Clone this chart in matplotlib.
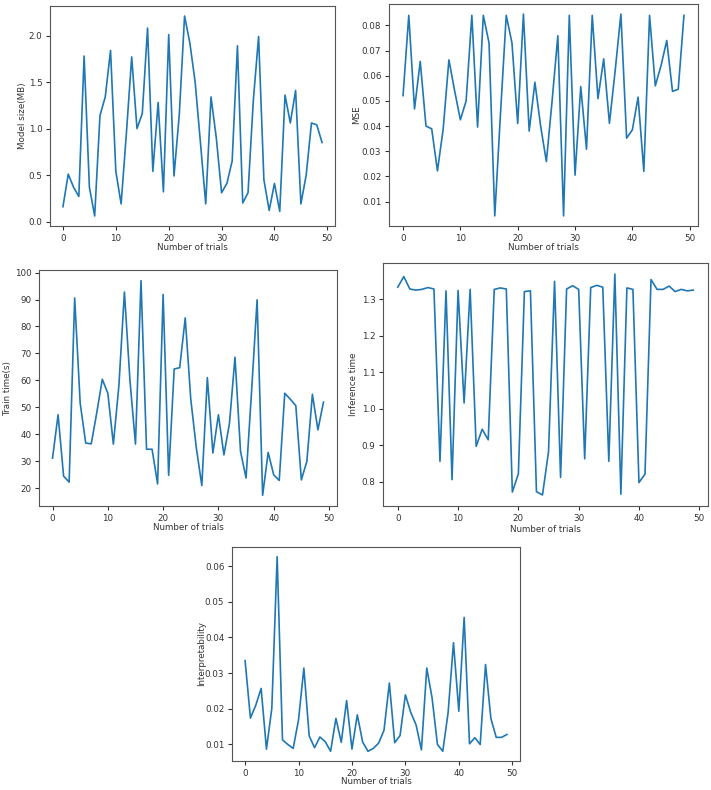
import numpy as np
import matplotlib
matplotlib.use('Agg')
import matplotlib.pyplot as plt

trials = np.arange(50)

model_size = [0.16, 0.51, 0.37, 0.27, 1.78, 0.37, 0.06, 1.14, 1.34, 1.84,
              0.54, 0.19, 0.95, 1.77, 1.00, 1.16, 2.08, 0.54, 1.28, 0.32,
              2.01, 0.49, 1.15, 2.21, 1.92, 1.50, 0.85, 0.19, 1.34, 0.90,
              0.31, 0.41, 0.65, 1.89, 0.20, 0.31, 1.30, 1.99, 0.45, 0.12,
              0.41, 0.11, 1.36, 1.06, 1.41, 0.19, 0.50, 1.06, 1.04, 0.85]

mse = [0.0521, 0.0840, 0.0468, 0.0657, 0.0400, 0.0389, 0.0222, 0.0388, 0.0663, 0.0540,
       0.0425, 0.0500, 0.0840, 0.0396, 0.0840, 0.0730, 0.0043, 0.0450, 0.0840, 0.0730,
       0.0410, 0.0845, 0.0380, 0.0574, 0.0400, 0.0259, 0.0500, 0.0759, 0.0043, 0.0840,
       0.0205, 0.0557, 0.0308, 0.0840, 0.0509, 0.0667, 0.0411, 0.0620, 0.0845, 0.0352,
       0.0385, 0.0515, 0.0220, 0.0840, 0.0560, 0.0640, 0.0740, 0.0538, 0.0546, 0.0840]

train_time = [31.1, 47.2, 24.4, 22.2, 90.6, 51.5, 36.7, 36.4, 48.0, 60.4,
              55.2, 36.3, 58.0, 92.8, 60.0, 36.3, 97.0, 34.4, 34.4, 21.5,
              91.9, 24.7, 64.2, 64.7, 83.2, 53.0, 35.0, 20.9, 61.0, 33.0,
              47.2, 32.3, 44.0, 68.6, 33.6, 23.7, 56.0, 89.9, 17.3, 33.2,
              24.9, 22.8, 55.2, 53.0, 50.6, 23.0, 29.9, 54.8, 41.6, 51.9]

inference_time = [1.333, 1.362, 1.328, 1.325, 1.327, 1.332, 1.328, 0.856, 1.323, 0.806,
                  1.324, 1.016, 1.327, 0.897, 0.944, 0.915, 1.327, 1.331, 1.328, 0.772,
                  0.822, 1.321, 1.323, 0.773, 0.764, 0.882, 1.349, 0.812, 1.328, 1.337,
                  1.327, 0.863, 1.332, 1.338, 1.333, 0.856, 1.369, 0.766, 1.331, 1.327,
                  0.798, 0.821, 1.354, 1.327, 1.327, 1.336, 1.321, 1.327, 1.323, 1.325]

interpretability = [0.0335, 0.0174, 0.0210, 0.0257, 0.0087, 0.0201, 0.0626, 0.0113, 0.0100, 0.0089,
                    0.0169, 0.0314, 0.0124, 0.0091, 0.0121, 0.0108, 0.0081, 0.0173, 0.0106, 0.0223,
                    0.0087, 0.0183, 0.0107, 0.0081, 0.0089, 0.0104, 0.0140, 0.0272, 0.0105, 0.0125,
                    0.0239, 0.0190, 0.0155, 0.0085, 0.0314, 0.0230, 0.0100, 0.0081, 0.0190, 0.0385,
                    0.0193, 0.0456, 0.0102, 0.0119, 0.0100, 0.0324, 0.0173, 0.0120, 0.0120, 0.0128]

W, H = 711, 790
fig = plt.figure(figsize=(W / 100, H / 100), dpi=100)

# (left, right, top, bottom) of each axes box, then x of ylabel, y of xlabel (pixels)
panels = [
    ((50, 335, 6, 226), 23, 247, model_size, 'Model size(MB)'),
    ((389, 698, 4, 226), 357, 247, mse, 'MSE'),
    ((39, 337, 270, 506), 8, 528, train_time, 'Train time(s)'),
    ((383, 708, 263, 506), 354, 530, inference_time, 'Inference time'),
    ((232, 520, 547, 761), 202, 781, interpretability, 'Interpretability'),
]

for (l, r, t, b), ylx, xly, vals, ylab in panels:
    ax = fig.add_axes([l / W, 1 - b / H, (r - l) / W, (b - t) / H])
    ax.plot(trials, vals, color='#1f77b4', lw=1.2)
    ax.set_xlabel('Number of trials', fontsize=6.3, color='#333333', va='center')
    ax.set_ylabel(ylab, fontsize=6.3, color='#333333', va='center')
    ax.xaxis.set_label_coords(0.5, (b - xly) / (b - t))
    ax.yaxis.set_label_coords((ylx - l) / (r - l), 0.5)
    ax.tick_params(labelsize=6.3, colors='#333333', length=3, pad=2.5)
    for s in ax.spines.values():
        s.set_color('#555555')
        s.set_linewidth(0.8)

fig.savefig('out.png', dpi=100)
